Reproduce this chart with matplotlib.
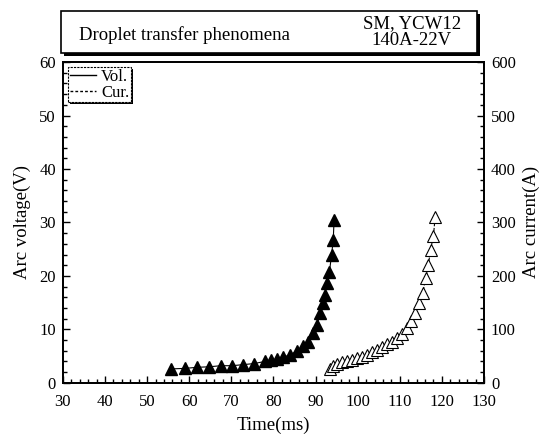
import numpy as np
import matplotlib.pyplot as plt
from matplotlib.patches import Rectangle
from matplotlib.lines import Line2D
from matplotlib.ticker import MultipleLocator

plt.rcParams['font.family'] = ['Liberation Serif', 'DejaVu Serif']

# Arc voltage (filled triangles)
vol_time = [55.6, 59.0, 61.9, 64.8, 67.5, 70.2, 72.8, 75.4, 78.0, 79.5, 80.8, 82.3,
            83.9, 85.5, 87.1, 88.3, 89.5, 90.4, 91.0, 91.7, 92.2, 92.6, 93.3, 93.8,
            94.2, 94.4]
vol_v = [2.6, 2.7, 2.9, 3.0, 3.2, 3.2, 3.4, 3.6, 4.0, 4.2, 4.4, 4.8,
         5.2, 5.9, 6.8, 7.7, 9.3, 10.8, 13.0, 14.9, 16.4, 18.6, 20.8, 23.9,
         26.7, 30.5]

# Arc current (open triangles)
cur_time = [93.4, 94.2, 95.2, 96.2, 97.4, 98.6, 99.8, 101.0, 102.1, 103.3, 104.5,
            105.7, 106.9, 108.1, 109.3, 110.5, 111.6, 112.7, 113.6, 114.6, 115.4,
            116.2, 116.8, 117.3, 118.0, 118.4]
cur_a = [26, 32, 36, 38, 40, 43, 46, 49, 52, 57, 62, 67, 72, 77, 84, 92, 102,
         115, 130, 149, 168, 196, 221, 249, 275, 311]

fig = plt.figure(figsize=(5.42, 4.37), dpi=100)
ax = fig.add_axes([0.116, 0.124, 0.777, 0.734])
ax2 = ax.twinx()

ax.plot(vol_time, vol_v, color='black', lw=0.8, marker='^', ms=8.5,
        mfc='black', mec='black', label='Vol.')
ax2.plot(cur_time, cur_a, color='black', lw=0.8, ls=(0, (3, 1.5)), marker='^', ms=8.5,
         mfc='white', mec='black', mew=0.8, label='Cur.')

ax.set_xlim(30, 130)
ax.set_ylim(0, 60)
ax2.set_ylim(0, 600)
ax.xaxis.set_major_locator(MultipleLocator(10))
ax.xaxis.set_minor_locator(MultipleLocator(2))
ax.yaxis.set_major_locator(MultipleLocator(10))
ax.yaxis.set_minor_locator(MultipleLocator(2))
ax2.yaxis.set_major_locator(MultipleLocator(100))
ax2.yaxis.set_minor_locator(MultipleLocator(20))

for a in (ax, ax2):
    a.tick_params(which='both', direction='in', labelsize=12, width=1)
    a.tick_params(which='major', length=5)
    a.tick_params(which='minor', length=3)
    for s in a.spines.values():
        s.set_linewidth(1.3)
ax.tick_params(axis='y', pad=5)
ax.tick_params(axis='x', pad=8)
ax2.tick_params(axis='y', pad=5)

ax.set_xlabel('Time(ms)', fontsize=13.5, labelpad=5)
ax.set_ylabel('Arc voltage(V)', fontsize=13.5, labelpad=6)
ax2.set_ylabel('Arc current(A)', fontsize=13.5, labelpad=5)

# legend
hs = [Line2D([], [], color='black', lw=1),
      Line2D([], [], color='black', lw=1, ls=(0, (2, 1.5)))]
leg = ax2.legend(hs, ['Vol.', 'Cur.'], loc='upper left', fontsize=12, handlelength=1.6,
                 handletextpad=0.3, borderpad=0.1, labelspacing=0.0,
                 borderaxespad=0.3, fancybox=False, shadow=False, framealpha=1)
leg.get_frame().set_edgecolor('black')
leg.get_frame().set_linestyle((0, (2, 1)))
leg.get_frame().set_linewidth(0.8)
leg.set_zorder(6)

# solid shadow behind the legend frame
fig.canvas.draw()
bb = leg.get_frame().get_window_extent().transformed(ax2.transAxes.inverted())
sx, sy = 2 / ax2.bbox.width, 2 / ax2.bbox.height
ax2.add_patch(Rectangle((bb.x0 + sx, bb.y0 - sy), bb.width, bb.height,
                        transform=ax2.transAxes, facecolor='black', edgecolor='none',
                        zorder=5.5, clip_on=False))

# title box with shadow
bx, by, bw, bh = 0.1125, 0.8787, 0.7675, 0.096
fig.patches.append(Rectangle((bx + 0.006, by - 0.007), bw, bh, transform=fig.transFigure,
                             facecolor='black', edgecolor='none', zorder=1))
fig.patches.append(Rectangle((bx, by), bw, bh, transform=fig.transFigure,
                             facecolor='white', edgecolor='black', lw=1.2, zorder=2))
fig.text(0.34, by + bh * 0.42, 'Droplet transfer phenomena', fontsize=13.5,
         ha='center', va='center', zorder=3)
fig.text(0.76, by + bh * 0.5, 'SM, YCW12\n140A-22V', fontsize=13.5,
         ha='center', va='center', linespacing=1.05, zorder=3)

fig.savefig('out.png', dpi=100)
